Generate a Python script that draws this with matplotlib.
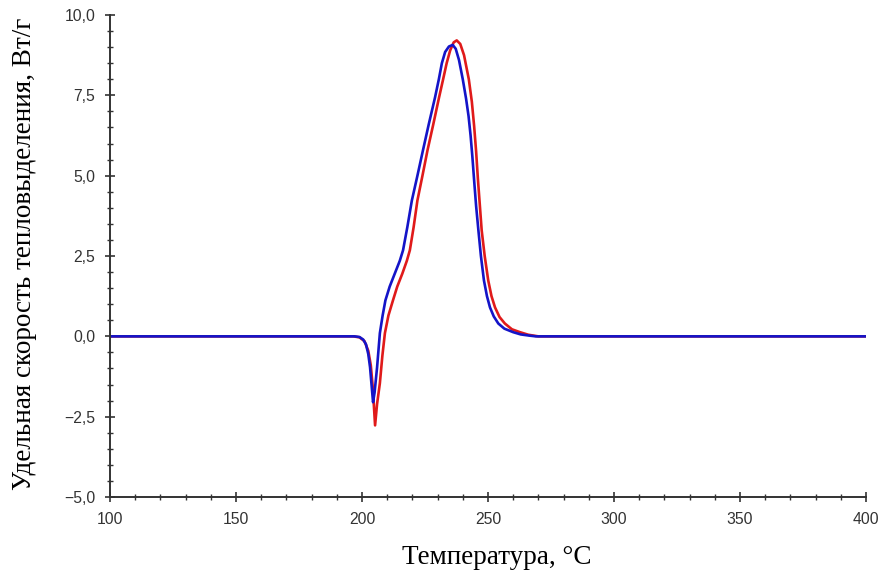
import matplotlib
matplotlib.use("Agg")
import matplotlib.pyplot as plt
from matplotlib.ticker import MultipleLocator, FuncFormatter

# данные (температура, °C -> удельная скорость, Вт/г)
temp_red = [100, 196.5, 199, 201, 202.5, 203.5, 204.3, 205.2, 206, 207.1, 208.1, 209.1,
            210.5, 212.3, 214, 216, 217.8, 219, 220.5, 222, 224, 226, 228.3, 230.6,
            232.2, 233.6, 235, 236.4, 237.6, 239, 240.5, 242.4, 243.6, 244.5, 245.3,
            246.0, 246.8, 247.5, 248.7, 250.1, 251.4, 252.8, 254.6, 256.7, 259.5,
            262.7, 266, 270, 400]
heat_red = [0, 0, -0.03, -0.15, -0.45, -0.9, -1.6, -2.77, -2.1, -1.46, -0.6, 0.1,
            0.65, 1.12, 1.55, 1.95, 2.35, 2.68, 3.4, 4.23, 5.0, 5.79, 6.6, 7.44,
            8.0, 8.5, 8.9, 9.15, 9.21, 9.1, 8.75, 8.0, 7.3, 6.55, 5.75,
            4.9, 4.05, 3.3, 2.5, 1.74, 1.25, 0.9, 0.6, 0.4, 0.22,
            0.13, 0.05, 0, 0]

temp_blue = [100, 197, 199, 200.5, 201.6, 202.5, 203.2, 203.9, 204.4, 205.0, 206, 207.1,
             208.2, 209.3, 211, 213, 215, 216.3, 218, 219.8, 222, 224.2, 226.5, 229,
             230.5, 231.7, 233, 234.5, 236, 237.2, 238.5, 240.0, 241.3, 242.3, 243.1,
             243.8, 244.5, 245.3, 246.2, 247.2, 248.4, 249.6, 250.8, 252.3, 254.1,
             256.5, 260, 263, 266.7, 269, 400]
heat_blue = [0, 0, -0.02, -0.1, -0.25, -0.55, -0.96, -1.6, -2.05, -1.75, -0.96, 0.1,
             0.65, 1.12, 1.55, 1.95, 2.35, 2.68, 3.4, 4.23, 5.0, 5.79, 6.6, 7.44,
             8.0, 8.5, 8.85, 9.02, 9.07, 8.95, 8.6, 8.0, 7.4, 6.85, 6.25,
             5.6, 4.86, 4.05, 3.3, 2.5, 1.74, 1.25, 0.9, 0.62, 0.4,
             0.24, 0.13, 0.06, 0.02, 0, 0]

fig = plt.figure(figsize=(8.79, 5.78), dpi=100)
ax = fig.add_axes([0.1251, 0.1401, 0.8601, 0.8339])

ax.plot(temp_red, heat_red, color='#e01a1a', lw=1.9)
ax.plot(temp_blue, heat_blue, color='#1414c8', lw=1.9)

ax.set_xlim(100, 400)
ax.set_ylim(-5, 10)

# оси: только левая и нижняя
for side in ['top', 'right']:
    ax.spines[side].set_visible(False)
for side in ['left', 'bottom']:
    ax.spines[side].set_color('#333333')
    ax.spines[side].set_linewidth(1.4)

ax.xaxis.set_major_locator(MultipleLocator(50))
ax.xaxis.set_minor_locator(MultipleLocator(10))
ax.yaxis.set_major_locator(MultipleLocator(2.5))
ax.yaxis.set_minor_locator(MultipleLocator(0.5))

# десятичная запятая
ax.xaxis.set_major_formatter(FuncFormatter(lambda v, p: f"{v:.0f}"))
ax.yaxis.set_major_formatter(FuncFormatter(lambda v, p: f"{v:.1f}".replace('.', ',').replace('-', '\u2212')))

ax.tick_params(which='major', direction='inout', length=7, width=1.2, color='#333333',
               labelsize=11.3, labelcolor='#333333', pad=7)
ax.tick_params(which='minor', direction='inout', length=4, width=1.0, color='#333333')
for lbl in ax.get_xticklabels() + ax.get_yticklabels():
    lbl.set_family('Liberation Sans')

ax.set_xlabel('Температура, °C', family='Liberation Serif', fontsize=19.5)
ax.xaxis.set_label_coords(0.512, -0.1)
ax.set_ylabel('Удельная скорость тепловыделения, Вт/г', family='Liberation Serif',
              fontsize=19.5)
ax.yaxis.set_label_coords(-0.096, 0.505)

plt.savefig('out.png', dpi=100)
